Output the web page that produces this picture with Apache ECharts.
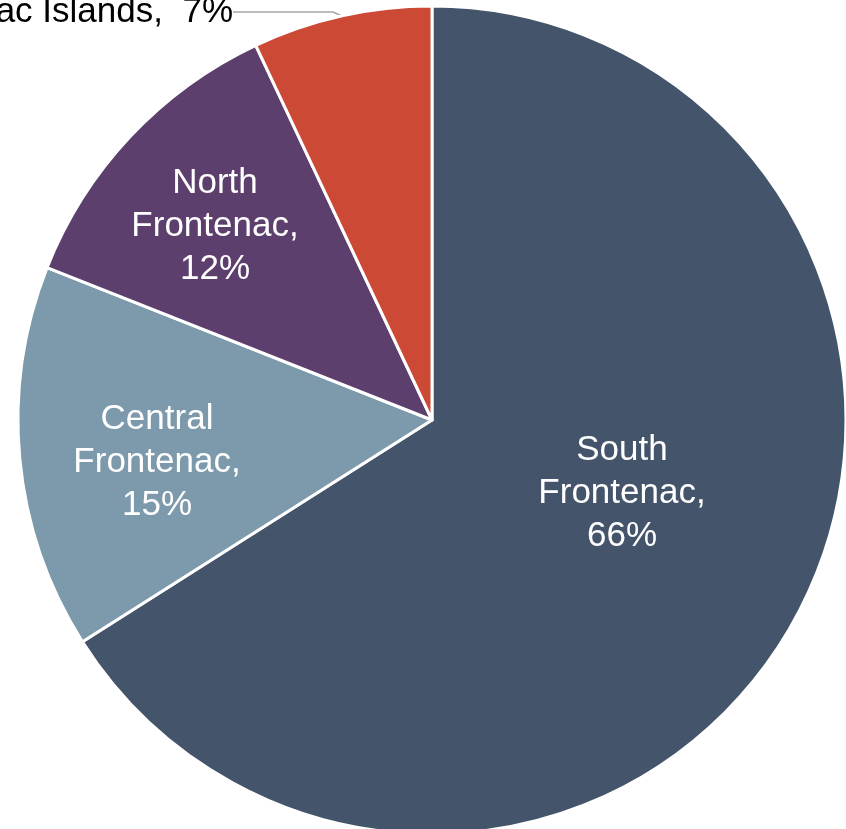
<!DOCTYPE html>
<html>
<head>
<meta charset="utf-8">
<script src="https://cdn.jsdelivr.net/npm/echarts@6/dist/echarts.min.js"></script>
<style>
html,body{margin:0;padding:0;background:#fff;}
#c{width:846px;height:829px;}
</style>
</head>
<body>
<div id="c"></div>
<script>
const categories = ['South Frontenac', 'Central Frontenac', 'North Frontenac', 'Frontenac Islands'];
const shares = [66, 15, 12, 7];
const colors = ['#44546a', '#7d99ac', '#5d3f6e', '#cb4935'];

const labelAnchors = [[622, 493], [157, 462], [215, 226], [233, 12]];

const chart = echarts.init(document.getElementById('c'), null, {renderer: 'canvas'});
chart.setOption({
  animation: false,
  series: [{
    type: 'pie',
    center: [432, 420],
    radius: [0, 414],
    startAngle: 90,
    clockwise: true,
    avoidLabelOverlap: false,
    data: categories.map((n, i) => ({
      name: n,
      value: shares[i],
      itemStyle: {color: colors[i]},
      label: i === 3 ? {position: 'outside', color: '#000'} : {position: 'inside', color: '#fff'},
      labelLine: i === 3 ? {show: true, length: 2, length2: 100, lineStyle: {color: '#a6a6a6', width: 1.5}} : {show: false}
    })),
    itemStyle: {borderColor: '#fff', borderWidth: 3},
    label: {
      fontFamily: 'Liberation Sans, Arial, sans-serif',
      fontSize: 35,
      lineHeight: 43,
      overflow: 'none',
      formatter: p => p.dataIndex === 3 ? p.name + ',  ' + p.value + '%' : p.name.replace(' ', '\n') + ',\n' + p.value + '%'
    },
    labelLayout: p => {
      const a = labelAnchors[p.dataIndex];
      if (p.dataIndex === 3) return {x: a[0], y: a[1], align: 'right', verticalAlign: 'middle'};
      return {x: a[0], y: a[1], align: 'center', verticalAlign: 'middle'};
    },
    emphasis: {disabled: true}
  }]
});
</script>
</body>
</html>
